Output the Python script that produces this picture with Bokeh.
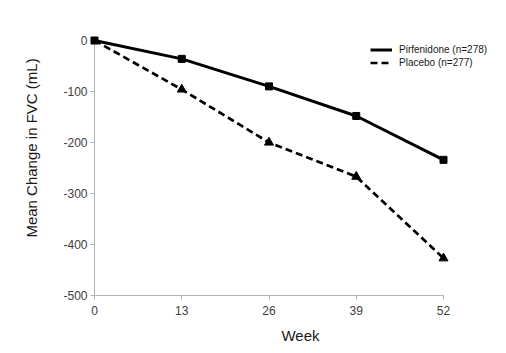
from bokeh.plotting import figure
from bokeh.models import Range1d, FixedTicker, Legend, LegendItem
from bokeh.embed import file_html
from bokeh.resources import INLINE

weeks = [0, 13, 26, 39, 52]
pirfenidone = [0, -36, -90, -148, -234]
placebo = [0, -96, -200, -267, -427]
y_ticks = [0, -100, -200, -300, -400, -500]
x_label = "Week"
y_label = "Mean Change in FVC (mL)"
series_names = ["Pirfenidone (n=278)", "Placebo (n=277)"]

# pixel layout: frame left = x 0, frame bottom = y -500
W_PX, H_PX = 506, 353
x0_px, x52_px = 94, 443
y0_px, y500_px = 40, 295
sx = (x52_px - x0_px) / 52.0
sy = (y500_px - y0_px) / 500.0

x_range = Range1d(weeks[0], weeks[0] + (W_PX - x0_px) / sx)
y_range = Range1d(y_ticks[-1], y0_px / sy)

p = figure(width=W_PX, height=H_PX, output_backend="svg", toolbar_location=None,
           x_range=x_range, y_range=y_range,
           min_border_left=x0_px, min_border_right=0,
           min_border_top=0, min_border_bottom=H_PX - y500_px)
p.outline_line_color = None
p.xgrid.visible = False
p.ygrid.visible = False
p.background_fill_color = "white"
p.border_fill_color = "white"

FONT = "Liberation Sans"
for ax in (p.xaxis[0], p.yaxis[0]):
    ax.axis_line_color = "#b3b3b3"
    ax.major_tick_line_color = "#b3b3b3"
    ax.minor_tick_line_color = None
    ax.major_tick_out = 4
    ax.major_tick_in = 0
    ax.major_label_text_font = FONT
    ax.major_label_text_font_size = "12px"
    ax.major_label_text_color = "#404040"
    ax.axis_label_text_font = FONT
    ax.axis_label_text_font_size = "15px"
    ax.axis_label_text_font_style = "normal"
    ax.axis_label_text_color = "#1a1a1a"

p.xaxis.ticker = FixedTicker(ticks=weeks)
p.yaxis.ticker = FixedTicker(ticks=y_ticks)
p.xaxis.major_label_overrides = {t: str(t) for t in weeks}
p.yaxis.major_label_overrides = {t: str(t) for t in y_ticks}
p.xaxis.bounds = (weeks[0], weeks[-1])
p.yaxis.bounds = (y_ticks[-1], y_ticks[0])
p.xaxis.axis_label = x_label
p.yaxis.axis_label = y_label
p.xaxis.major_label_standoff = 6
p.yaxis.major_label_standoff = 3
p.xaxis.axis_label_standoff = 9
p.yaxis.axis_label_standoff = 20

l2 = p.line(weeks, placebo, line_color="black", line_width=2.7, line_dash="7 4", level="overlay")
p.scatter(weeks[1:], placebo[1:], marker="triangle", size=9, color="black", level="overlay")
l1 = p.line(weeks, pirfenidone, line_color="black", line_width=3, level="overlay")
p.scatter(weeks, pirfenidone, marker="square", size=7, color="black", level="overlay")

legend = Legend(items=[LegendItem(label=series_names[0], renderers=[l1]),
                       LegendItem(label=series_names[1], renderers=[l2])],
                location=(370 - x0_px, y500_px - 43 - 26))
legend.background_fill_alpha = 0
legend.border_line_color = None
legend.padding = 0
legend.margin = 0
legend.spacing = 0
legend.glyph_width = 22
legend.glyph_height = 13
legend.label_height = 13
legend.label_standoff = 7
legend.label_text_font = FONT
legend.label_text_font_size = "10px"
legend.label_text_color = "#1a1a1a"
p.add_layout(legend, "center")

open("out.html", "w").write(file_html(p, INLINE))
